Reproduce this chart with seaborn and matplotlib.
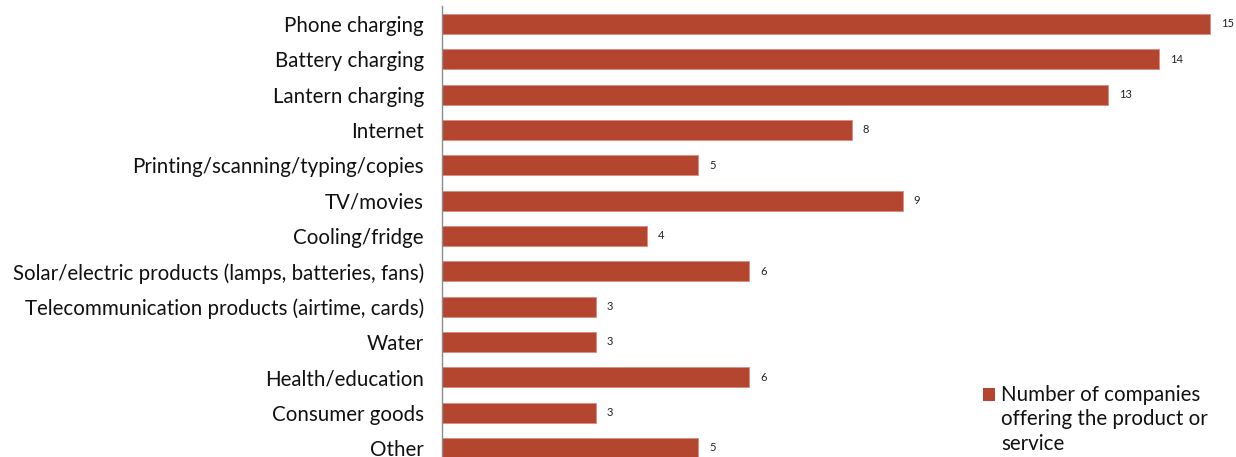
import matplotlib
matplotlib.use("Agg")
import matplotlib.pyplot as plt
import seaborn as sns
import pandas as pd
from matplotlib.patches import Rectangle

categories = [
    "Phone charging",
    "Battery charging",
    "Lantern charging",
    "Internet",
    "Printing/scanning/typing/copies",
    "TV/movies",
    "Cooling/fridge",
    "Solar/electric products (lamps, batteries, fans)",
    "Telecommunication products (airtime, cards)",
    "Water",
    "Health/education",
    "Consumer goods",
    "Other",
]
counts = [15, 14, 13, 8, 5, 9, 4, 6, 3, 3, 6, 3, 5]
series_name = "Number of companies\noffering the product or\nservice"

bar_color = "#B4452F"

sns.set_theme(style="white")
plt.rcParams["font.family"] = ["Lato", "DejaVu Sans"]

df = pd.DataFrame({"category": categories, "count": counts})

W, H = 1236, 457
fig = plt.figure(figsize=(W / 100, H / 100), dpi=100)

slot = 35.33
left_px = 442
top_px = 24 - slot / 2
height_px = slot * len(categories)
ax = fig.add_axes([left_px / W, 1 - (top_px + height_px) / H,
                   (W - left_px) / W, height_px / H])

sns.barplot(data=df, y="category", x="count", orient="h", color=bar_color,
            saturation=1, width=0.57, ax=ax, edgecolor="#D98C7E", linewidth=0.6)

px_per_unit = 51.2
ax.set_xlim(0, (W - left_px) / px_per_unit)
ax.set_ylim(len(categories) - 0.5, -0.5)

for i, v in enumerate(counts):
    ax.text(v + 11 / px_per_unit, i, str(v), va="center", ha="left",
            fontsize=8, color="#222222")

ax.set_xlabel("")
ax.set_ylabel("")
ax.set_xticks([])
ax.tick_params(axis="y", length=0, pad=13, labelsize=14.8, labelcolor="#111111")
for s in ["top", "right", "bottom"]:
    ax.spines[s].set_visible(False)
ax.spines["left"].set_color("#8C8C8C")
ax.spines["left"].set_linewidth(1.0)

# legend: colour swatch next to the series name
fig.patches.append(Rectangle((983 / W, 1 - 401 / H), 12 / W, 13 / H,
                             transform=fig.transFigure, facecolor=bar_color,
                             edgecolor="none"))
fig.text(1001 / W, 1 - 385 / H, series_name, ha="left", va="top",
         fontsize=14.8, color="#111111", linespacing=1.28)

fig.savefig("out.png", dpi=100)
